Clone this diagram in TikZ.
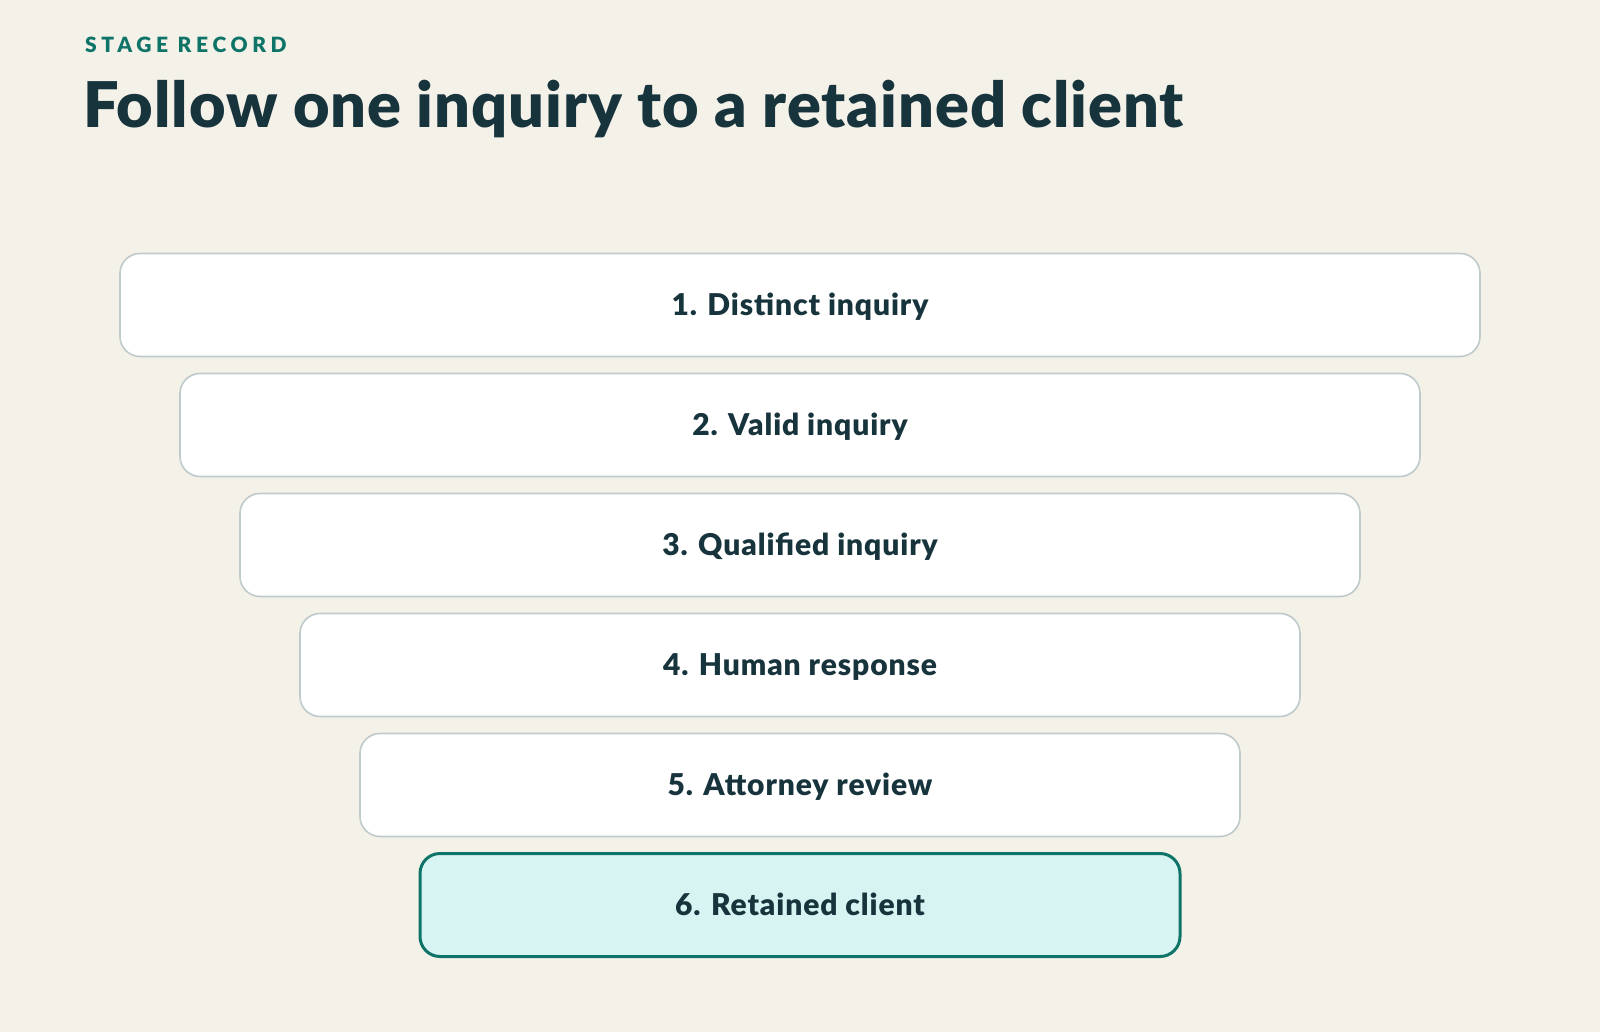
\documentclass[tikz,border=0pt]{standalone}
\usepackage{fontspec}
\setmainfont{Lato}[BoldFont={Lato Black}]
\definecolor{paper}{HTML}{F4F1E9}
\definecolor{ink}{HTML}{17343D}
\definecolor{teal}{HTML}{0E7468}
\definecolor{rim}{HTML}{BFCACA}
\definecolor{mint}{HTML}{D8F4F2}
\tikzset{
  stage/.style={draw=rim, line width=1.6pt, fill=white, rounded corners=20pt,
    minimum height=103pt, text=ink, text height=21.5pt, text depth=0pt,
    font=\fontsize{30}{32}\selectfont\bfseries\addfontfeatures{LetterSpace=3}},
  final/.style={stage, draw=teal, line width=3pt, fill=mint},
}
\begin{document}
\begin{tikzpicture}[x=1pt,y=-1pt]
      \fill[paper] (0,0) rectangle (1600,1032);
      \useasboundingbox (0,0) rectangle (1600,1032);
      \node[anchor=base west, text=teal, inner sep=0pt,
        font=\fontsize{21}{24}\selectfont\bfseries\addfontfeatures{LetterSpace=22}]
        (kicker) at (85,53) {STAGE RECORD};
      \node[anchor=base west, text=ink, inner sep=0pt,
        font=\fontsize{63}{70}\selectfont\bfseries\addfontfeatures{LetterSpace=1.5}]
        (title) at (83,128) {Follow one inquiry to a retained client};
      \draw
        (800,305) node[stage, minimum width=1360pt] (1){1. Distinct inquiry}
        (800,425) node[stage, minimum width=1240pt] (2){2. Valid inquiry}
        (800,545) node[stage, minimum width=1120pt] (3){3. Qualified inquiry}
        (800,665) node[stage, minimum width=1000pt] (4){4. Human response}
        (800,785) node[stage, minimum width=880pt] (5){5. Attorney review}
        (800,905) node[final, minimum width=760pt] (6){6. Retained client};
    \end{tikzpicture}
\end{document}
